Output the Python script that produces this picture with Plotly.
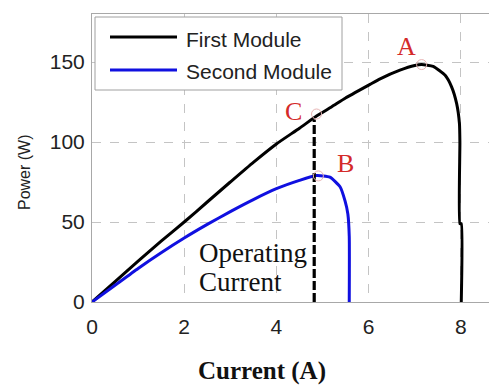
import plotly.graph_objects as go

# Data
first_I = [0, 0.5, 1, 1.5, 2, 2.5, 3, 3.5, 4, 4.5, 4.87, 5.2, 5.5, 6.03, 6.25, 6.68, 7.0, 7.15, 7.4, 7.66, 7.8, 7.91, 7.97, 7.98, 7.98, 8.01, 8.01]
first_P = [0, 12.8, 25.5, 38, 50, 62.5, 75, 87.3, 98.8, 108.6, 116.2, 122, 127.5, 136, 139.5, 144.9, 147.8, 148.4, 147.3, 141.7, 134.5, 124, 111.6, 100, 49, 49, 0]

second_I = [0, 0.5, 1, 1.5, 2, 2.5, 3, 3.5, 4, 4.5, 4.87, 5.16, 5.38, 5.49, 5.55, 5.58, 5.58]
second_P = [0, 10.5, 21, 30.8, 40, 48.5, 56.5, 64, 70.8, 76, 79, 78, 72, 63, 55, 41, 0]

op_I = [4.82, 4.82]
op_P = [0, 114]

pts_I = [7.15, 4.87, 4.91]
pts_P = [148.4, 117.5, 78.8]
pts_lab = ["A", "C", "B"]

x_ticks = [0, 2, 4, 6, 8]
y_ticks = [0, 50, 100, 150]

# page body adds an 8 px offset; reference pixel positions are converted below
OFF = 8
W, H = 497 - OFF, 389 - OFF
L, R, T, B = 92 - OFF, 0, 14 - OFF, 389 - 302
PW, PH = W - L - R, H - T - B


def px(x):
    return (x - OFF - L) / PW


def py(y):
    return (H - B - (y - OFF)) / PH


fig = go.Figure()
fig.add_trace(go.Scatter(x=first_I, y=first_P, mode="lines", name="First Module",
                         line=dict(color="black", width=3, shape="spline", smoothing=0.5), showlegend=False))
fig.add_trace(go.Scatter(x=second_I, y=second_P, mode="lines", name="Second Module",
                         line=dict(color="#1010e0", width=3, shape="spline", smoothing=0.5), showlegend=False))
fig.add_trace(go.Scatter(x=op_I, y=op_P, mode="lines", name="Operating Current",
                         line=dict(color="black", width=3.2, dash="9px,3px"), showlegend=False))
fig.add_trace(go.Scatter(x=pts_I, y=pts_P, mode="markers", showlegend=False,
                         marker=dict(symbol="circle-open", size=10, color="#e8b4b4",
                                     line=dict(width=1, color="#e8b4b4"))))

serif = "Liberation Serif, Times New Roman, serif"
sans = "Liberation Sans, Arial, sans-serif"

ann = []
lab_pos = {"A": (406.7, 46.7), "C": (293.3, 111.7), "B": (345, 163.3)}
for lab in pts_lab:
    xp, yp = lab_pos[lab]
    ann.append(dict(x=px(xp), y=py(yp), xref="paper", yref="paper", text=lab, showarrow=False,
                    font=dict(family=serif, size=26, color="#d42a2a"), xanchor="center", yanchor="middle"))
ann.append(dict(x=px(197), y=py(253), xref="paper", yref="paper", text="Operating", showarrow=False,
                font=dict(family=serif, size=27, color="#111"), xanchor="left", yanchor="middle"))
ann.append(dict(x=px(197), y=py(282), xref="paper", yref="paper", text="Current", showarrow=False,
                font=dict(family=serif, size=27, color="#111"), xanchor="left", yanchor="middle"))
ann.append(dict(x=px(262), y=py(387), xref="paper", yref="paper", text="<b>Current (A)</b>", showarrow=False,
                font=dict(family=serif, size=25, color="#111"), xanchor="center", yanchor="bottom"))
ann.append(dict(x=px(24), y=py(172), xref="paper", yref="paper", text="Power (W)", showarrow=False,
                textangle=-90, font=dict(family=sans, size=16, color="#222"),
                xanchor="center", yanchor="middle"))
ann.append(dict(x=px(184), y=py(39), xref="paper", yref="paper", text="First Module", showarrow=False,
                font=dict(family=sans, size=21, color="#222"), xanchor="left", yanchor="middle"))
ann.append(dict(x=px(184), y=py(72), xref="paper", yref="paper", text="Second Module", showarrow=False,
                font=dict(family=sans, size=21, color="#222"), xanchor="left", yanchor="middle"))

shapes = [
    dict(type="rect", xref="paper", yref="paper", x0=px(95), x1=px(342), y0=py(90), y1=py(17),
         fillcolor="white", line=dict(color="#a0a0a0", width=1), layer="above"),
    dict(type="line", xref="paper", yref="paper", x0=px(110), x1=px(177), y0=py(37), y1=py(37),
         line=dict(color="black", width=3), layer="above"),
    dict(type="line", xref="paper", yref="paper", x0=px(110), x1=px(177), y0=py(70), y1=py(70),
         line=dict(color="#1010e0", width=3), layer="above"),
]

fig.update_layout(
    width=W, height=H,
    margin=dict(l=L, r=R, t=T, b=B, pad=0),
    paper_bgcolor="white", plot_bgcolor="white",
    annotations=ann, shapes=shapes,
    xaxis=dict(range=[0, 8.785], tickvals=x_ticks, ticktext=[str(v) for v in x_ticks],
               showgrid=True, gridcolor="#c4c4c4", griddash="dash", gridwidth=1,
               showline=True, linecolor="#a8a8a8", linewidth=1, mirror=True,
               zeroline=False, ticks="", tickfont=dict(family=sans, size=21, color="#222"),
               ticklabelstandoff=6),
    yaxis=dict(range=[0, 180], tickvals=y_ticks, ticktext=[str(v) for v in y_ticks],
               showgrid=True, gridcolor="#c4c4c4", griddash="dash", gridwidth=1,
               showline=True, linecolor="#a8a8a8", linewidth=1, mirror=True,
               zeroline=False, ticks="", tickfont=dict(family=sans, size=21, color="#222"),
               ticklabelstandoff=2),
)

fig.write_html("out.html")
